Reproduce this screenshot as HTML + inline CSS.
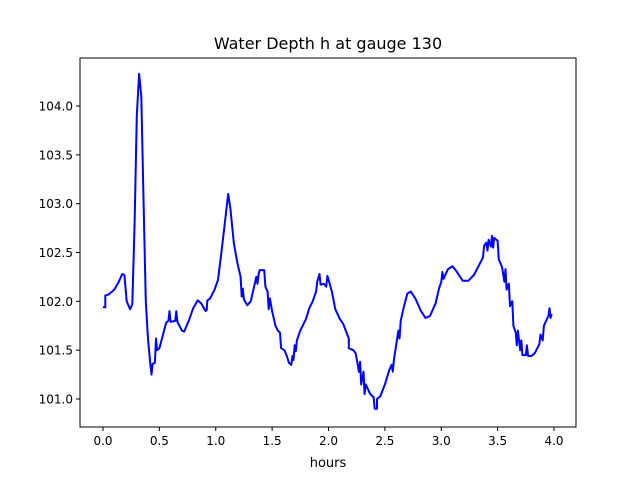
<!DOCTYPE html>
<html><head><meta charset="utf-8"><style>
body{margin:0;background:#fff;}
svg text{font-family:"DejaVu Sans","Liberation Sans",sans-serif;fill:#000;}
</style></head><body>
<svg id="chart" width="640" height="480" viewBox="0 0 640 480" xmlns="http://www.w3.org/2000/svg">
<rect width="640" height="480" fill="#fff"/>
<text x="328" y="49" font-size="16" text-anchor="middle">Water Depth h at gauge 130</text>
<g id="plot"></g>
<text x="328" y="467" font-size="13" text-anchor="middle">hours</text>
</svg>
<script>
const times=[0,0.02,0.02,0.05,0.10,0.14,0.17,0.19,0.21,0.24,0.26,0.28,0.30,0.32,0.34,0.36,0.38,0.40,0.42,0.43,0.44,0.46,0.47,0.48,0.50,0.53,0.56,0.58,0.59,0.60,0.64,0.65,0.66,0.70,0.72,0.76,0.80,0.84,0.87,0.91,0.92,0.925,0.95,0.99,1.02,1.05,1.08,1.11,1.13,1.16,1.19,1.22,1.23,1.24,1.25,1.28,1.31,1.34,1.36,1.37,1.38,1.39,1.43,1.44,1.46,1.47,1.48,1.50,1.53,1.55,1.57,1.58,1.61,1.63,1.65,1.67,1.68,1.69,1.70,1.71,1.72,1.75,1.80,1.83,1.86,1.89,1.90,1.92,1.93,1.96,1.98,1.99,2.03,2.06,2.10,2.13,2.16,2.18,2.18,2.22,2.24,2.26,2.27,2.28,2.29,2.31,2.32,2.33,2.37,2.40,2.41,2.43,2.43,2.46,2.50,2.54,2.56,2.57,2.58,2.62,2.63,2.64,2.67,2.70,2.73,2.77,2.82,2.86,2.90,2.95,2.98,3.00,3.01,3.02,3.06,3.10,3.14,3.19,3.24,3.29,3.33,3.37,3.38,3.40,3.41,3.42,3.44,3.45,3.46,3.47,3.50,3.51,3.54,3.56,3.57,3.58,3.60,3.61,3.63,3.64,3.66,3.67,3.68,3.70,3.71,3.72,3.75,3.76,3.77,3.80,3.83,3.87,3.88,3.90,3.91,3.93,3.95,3.96,3.97,3.98];
const depths=[101.94,101.94,102.06,102.07,102.12,102.2,102.28,102.27,102.0,101.92,101.97,102.8,103.9,104.33,104.1,103.0,102.0,101.6,101.35,101.25,101.36,101.37,101.62,101.50,101.52,101.65,101.78,101.80,101.90,101.79,101.80,101.9,101.79,101.70,101.69,101.8,101.93,102.01,101.98,101.90,101.91,102.01,102.03,102.12,102.22,102.5,102.8,103.1,102.95,102.6,102.4,102.25,102.05,102.13,102.02,101.96,102.0,102.15,102.25,102.18,102.28,102.32,102.32,102.15,102.1,101.92,102.03,101.9,101.75,101.7,101.68,101.52,101.5,101.44,101.37,101.35,101.44,101.4,101.55,101.49,101.6,101.7,101.82,101.93,102.0,102.1,102.2,102.28,102.17,102.18,102.15,102.26,102.1,101.92,101.82,101.77,101.68,101.62,101.52,101.5,101.47,101.35,101.28,101.38,101.15,101.28,101.05,101.15,101.05,101.02,100.9,100.9,101.0,101.03,101.15,101.3,101.35,101.28,101.4,101.7,101.62,101.8,101.95,102.08,102.1,102.03,101.9,101.83,101.85,101.98,102.13,102.2,102.3,102.23,102.33,102.36,102.3,102.21,102.21,102.27,102.36,102.45,102.57,102.6,102.52,102.63,102.56,102.67,102.55,102.65,102.62,102.43,102.35,102.2,102.33,102.12,102.18,101.95,102.0,101.75,101.68,101.55,101.70,101.5,101.6,101.45,101.45,101.55,101.44,101.44,101.47,101.56,101.66,101.6,101.75,101.8,101.85,101.93,101.83,101.87];
const xTicks=[0.0,0.5,1.0,1.5,2.0,2.5,3.0,3.5,4.0];
const yTicks=[101.0,101.5,102.0,102.5,103.0,103.5,104.0];
const L=80,R=576,T=58,B=427;
const xs=t=>103+(t-0)*112.75;
const ys=h=>106+(104-h)*97.67;
const NS="http://www.w3.org/2000/svg";
const g=document.getElementById('plot');
function mk(tag,attrs){const e=document.createElementNS(NS,tag);for(const k in attrs)e.setAttribute(k,attrs[k]);g.appendChild(e);return e;}
const line=mk('path',{d:times.map((t,i)=>(i?'L':'M')+xs(t).toFixed(1)+','+ys(depths[i]).toFixed(1)).join(''),fill:'none',stroke:'#0000ff','stroke-width':2,'stroke-linejoin':'round'});


const frame=mk('rect',{x:L,y:T,width:R-L,height:B-T,fill:'none',stroke:'#000','stroke-width':1});


xTicks.forEach(v=>{const x=xs(v);
const tk=mk('line',{x1:x,x2:x,y1:B,y2:B+4,stroke:'#000'});


const tx=mk('text',{x:x,y:B+18,'font-size':12,'text-anchor':'middle'});tx.textContent=v.toFixed(1);

});
yTicks.forEach(v=>{const y=ys(v);
const tk=mk('line',{x1:L-4,x2:L,y1:y,y2:y,stroke:'#000'});


const tx=mk('text',{x:L-7,y:y+4.5,'font-size':12,'text-anchor':'end'});tx.textContent=v.toFixed(1);

});
</script>
</body></html>
